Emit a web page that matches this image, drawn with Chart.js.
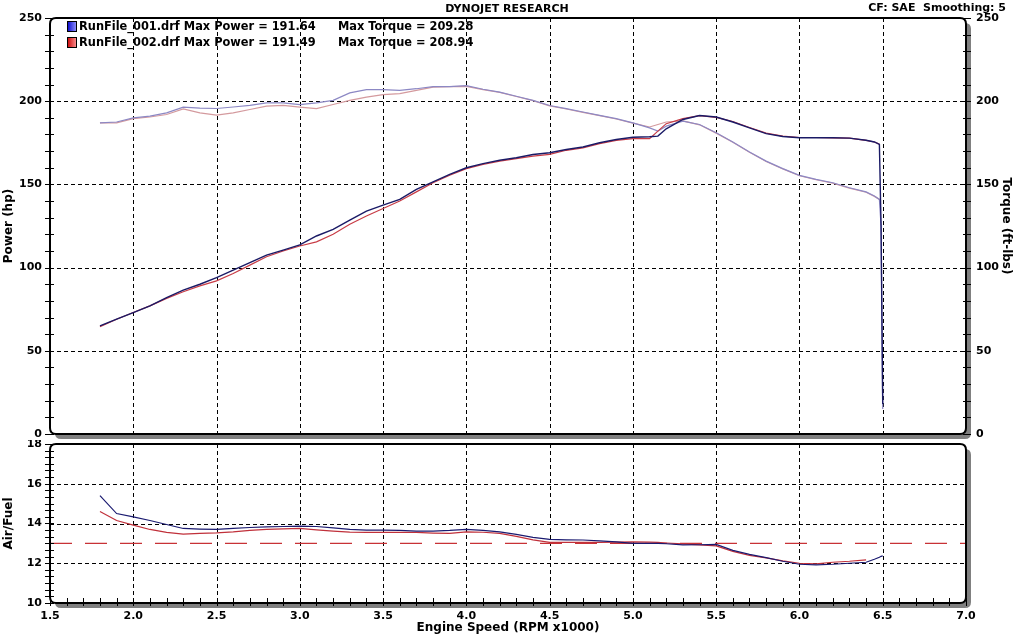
<!DOCTYPE html>
<html>
<head>
<meta charset="utf-8">
<script src="https://cdn.jsdelivr.net/npm/chart.js@4.4.1/dist/chart.umd.min.js"></script>
<style>
  body { margin: 0; background: #fff; overflow: hidden; }
  #top { position: absolute; left: 0; top: 0; }
  #afr { position: absolute; left: 0; top: 440px; }
</style>
</head>
<body>
<canvas id="top" width="1015" height="440"></canvas>
<canvas id="afr" width="1015" height="195"></canvas>
<script>
// engine speed (RPM x1000)
var rpm = [1.8, 1.9, 2.0, 2.1, 2.2, 2.3, 2.4, 2.5, 2.6, 2.7,
           2.8, 2.9, 3.0, 3.1, 3.2, 3.3, 3.4, 3.5, 3.6, 3.7,
           3.8, 3.9, 4.0, 4.1, 4.2, 4.3, 4.4, 4.5, 4.6, 4.7,
           4.8, 4.9, 5.0, 5.1, 5.15, 5.2, 5.3, 5.4, 5.5, 5.6,
           5.7, 5.8, 5.9, 6.0, 6.1, 6.2, 6.3, 6.4, 6.45, 6.48,
           6.49, 6.5];

var power1 = [65, 69, 73, 77, 82, 86.5, 90, 94, 98.5, 103,
              107.5, 110.5, 113.6, 119, 123, 128.5, 134, 137.5, 141, 147,
              151.5, 156, 160, 162.5, 164.5, 166, 168, 169, 171, 172.5,
              175, 177, 178.3, 178.6, 179, 183.4, 189, 191.4, 190.5, 187.5,
              184, 180.5, 178.8, 178, 178, 178, 177.8, 176.5, 175.5, 174,
              125, 18];
var power2 = [64.5, 69, 73, 77, 81.5, 85.5, 89, 92, 96.5, 101.5,
              106.5, 110, 113, 115.5, 120, 126, 131, 135.5, 140, 145.5,
              151, 155.5, 159.5, 162, 164, 165.5, 167, 168, 170.5, 172,
              174.5, 176.5, 177.5, 177.5, 182, 186.5, 189.5, 191.3, 190.3, 187.8,
              184.2, 180.8, 179, 178.2, 178.2, 178, 177.8, 176.5, 175.5, 174.2,
              null, null];
var torque1 = [187, 187.5, 190, 191, 193, 196.4, 195.8, 195.6, 196.5, 197.5,
               199, 199, 198, 199, 200.5, 205, 207, 207, 206.5, 207.5,
               208.8, 208.8, 209.3, 207.2, 205.5, 203, 200.5, 197.4, 195.5, 193.5,
               191.5, 189.5, 187, 184, 182, 185, 188, 186, 181, 175.5,
               169.5, 164, 159.5, 155.4, 153, 151, 148, 145.5, 143, 141,
               125, 15];
var torque2 = [187, 187, 189.5, 190.5, 192, 195.4, 193, 191.6, 193, 195,
               197, 197.5, 196.4, 195.5, 198, 200.5, 202.5, 204, 204.5, 206.5,
               208.5, 208.8, 208.9, 207, 205.3, 202.8, 200.3, 197.2, 195.3, 193.3,
               191.3, 189.3, 186.8, 184.5, 186, 187.5, 188.2, 185.8, 180.8, 175.3,
               169.3, 163.8, 159.3, 155.2, 152.8, 150.8, 147.8, 145.3, 142.8, 141,
               null, null];
var afr1 = [15.4, 14.5, 14.33, 14.15, 13.95, 13.75, 13.72, 13.7, 13.75, 13.8,
            13.83, 13.85, 13.87, 13.85, 13.78, 13.7, 13.67, 13.67, 13.65, 13.62,
            13.62, 13.65, 13.7, 13.65, 13.58, 13.45, 13.3, 13.2, 13.18, 13.17,
            13.13, 13.08, 13.0, 13.0, 13.0, 12.98, 12.92, 12.93, 12.95, 12.65,
            12.45, 12.28, 12.1, 11.95, 11.92, 11.95, 12.0, 12.05, 12.2, 12.3,
            12.35, 12.37];
var afr2 = [14.6, 14.15, 13.92, 13.7, 13.55, 13.47, 13.5, 13.53, 13.58, 13.65,
            13.7, 13.73, 13.75, 13.68, 13.62, 13.57, 13.55, 13.55, 13.55, 13.55,
            13.52, 13.5, 13.58, 13.56, 13.5, 13.35, 13.18, 13.05, 13.05, 13.05,
            13.05, 13.06, 13.08, 13.06, 13.05, 13.02, 12.97, 12.92, 12.87, 12.6,
            12.4, 12.27, 12.12, 12.0, 11.97, 12.05, 12.1, 12.17, null, null,
            null, null];
var afrTarget = 13.0;

var runs = ['RunFile_001.drf', 'RunFile_002.drf'];
var maxPower = ['191.64', '191.49'];
var maxTorque = ['209.28', '208.94'];

var FONT = 'DejaVu Sans';

function pts(ys) {
    return rpm.map(function (x, i) { return { x: x, y: ys[i] }; });
}

function rr(ctx, x, y, w, h, r) {
    ctx.beginPath();
    ctx.moveTo(x + r, y);
    ctx.lineTo(x + w - r, y);
    ctx.quadraticCurveTo(x + w, y, x + w, y + r);
    ctx.lineTo(x + w, y + h - r);
    ctx.quadraticCurveTo(x + w, y + h, x + w - r, y + h);
    ctx.lineTo(x + r, y + h);
    ctx.quadraticCurveTo(x, y + h, x, y + h - r);
    ctx.lineTo(x, y + r);
    ctx.quadraticCurveTo(x, y, x + r, y);
    ctx.closePath();
}

// rounded panel with grey drop shadow, dashed grid, small tick marks
var frame = {
    id: 'frame',
    beforeDraw: function (chart) {
        var ctx = chart.ctx, a = chart.chartArea;
        ctx.save();
        ctx.fillStyle = '#808080';
        rr(ctx, a.left + 5, a.top + 5, a.right - a.left, a.bottom - a.top, 6);
        ctx.fill();
        ctx.fillStyle = '#fff';
        rr(ctx, a.left, a.top, a.right - a.left, a.bottom - a.top, 6);
        ctx.fill();
        ctx.restore();
    },
    beforeDatasetsDraw: function (chart) {
        // dashed grid at the scales' own ticks
        var ctx = chart.ctx, a = chart.chartArea;
        ctx.save();
        ctx.beginPath();
        ctx.rect(a.left, a.top, a.right - a.left, a.bottom - a.top);
        ctx.clip();
        ctx.strokeStyle = '#000';
        ctx.lineWidth = 1;
        ctx.setLineDash([4, 3]);
        ctx.beginPath();
        chart.scales.x.ticks.forEach(function (t) {
            var p = Math.round(chart.scales.x.getPixelForValue(t.value)) + 0.5;
            if (p > a.left + 2 && p < a.right - 2) { ctx.moveTo(p, a.top); ctx.lineTo(p, a.bottom); }
        });
        chart.scales.y.ticks.forEach(function (t) {
            var p = Math.round(chart.scales.y.getPixelForValue(t.value)) + 0.5;
            if (p > a.top + 2 && p < a.bottom - 2) { ctx.moveTo(a.left, p); ctx.lineTo(a.right, p); }
        });
        ctx.stroke();
        ctx.restore();
    },
    afterDraw: function (chart, args, o) {
        var ctx = chart.ctx, a = chart.chartArea, v, p;
        ctx.save();
        ctx.setLineDash([]);
        ctx.strokeStyle = '#000';
        ctx.lineWidth = 1;
        ctx.beginPath();
        if (o.left) {
            var ys = chart.scales.y;
            for (v = ys.min; v <= ys.max + 1e-6; v += o.left) {
                p = Math.round(ys.getPixelForValue(v)) + 0.5;
                ctx.moveTo(a.left - 5, p); ctx.lineTo(a.left + 4, p);
            }
        }
        if (o.right) {
            var ys2 = chart.scales.y2;
            for (v = ys2.min; v <= ys2.max + 1e-6; v += o.right) {
                p = Math.round(ys2.getPixelForValue(v)) + 0.5;
                ctx.moveTo(a.right - 3, p); ctx.lineTo(a.right + 5, p);
            }
        }
        if (o.bottom) {
            var xs = chart.scales.x;
            for (v = xs.min; v <= xs.max + 1e-6; v += o.bottom) {
                p = Math.round(xs.getPixelForValue(v)) + 0.5;
                ctx.moveTo(p, a.bottom - 5); ctx.lineTo(p, a.bottom + 3);
            }
        }
        ctx.stroke();
        ctx.lineWidth = 2;
        rr(ctx, a.left, a.top, a.right - a.left, a.bottom - a.top, 6);
        ctx.stroke();
        ctx.restore();
    }
};

// header text and run legend
var header = {
    id: 'header',
    afterDraw: function (chart) {
        var ctx = chart.ctx;
        ctx.save();
        ctx.fillStyle = '#000';
        ctx.font = 'bold 11px "' + FONT + '"';
        ctx.textBaseline = 'middle';
        ctx.textAlign = 'center';
        ctx.fillText('DYNOJET RESEARCH', 507, 9);
        ctx.textAlign = 'right';
        ctx.fillText('CF: SAE  Smoothing: 5', 1006, 8);
        ctx.textAlign = 'left';
        var cols = [['#0000c8', '#9a9aff'], ['#c80000', '#ff9a9a']];
        ctx.font = 'bold 11.4px "' + FONT + '"';
        for (var i = 0; i < 2; i++) {
            var y = 27 + i * 16;
            var g = ctx.createLinearGradient(67, 0, 77, 0);
            g.addColorStop(0, cols[i][0]);
            g.addColorStop(1, cols[i][1]);
            ctx.fillStyle = g;
            ctx.fillRect(67, y - 6, 10, 11);
            ctx.strokeStyle = '#000';
            ctx.lineWidth = 1;
            ctx.strokeRect(67.5, y - 5.5, 9, 10);
            ctx.fillStyle = '#000';
            ctx.fillText(runs[i] + ' Max Power = ' + maxPower[i], 79, y);
            ctx.fillText('Max Torque = ' + maxTorque[i], 338, y);
        }
        ctx.restore();
    }
};

function fixY(w) {
    return function (s) { s.width = w; s.paddingTop = 0; s.paddingBottom = 0; };
}

var gridOpts = { display: false, drawTicks: false };
var tickFont = { family: FONT, weight: 'bold', size: 11 };
var titleFont = { family: FONT, weight: 'bold', size: 12 };

new Chart(document.getElementById('top'), {
    type: 'line',
    data: {
        datasets: [
            { label: 'Power 1', data: pts(power1), yAxisID: 'y', borderColor: '#1a1a66', borderWidth: 1.4 },
            { label: 'Power 2', data: pts(power2), yAxisID: 'y', borderColor: '#c83c46', borderWidth: 1.2 },
            { label: 'Torque 1', data: pts(torque1), yAxisID: 'y2', borderColor: '#8c88c4', borderWidth: 1.2 },
            { label: 'Torque 2', data: pts(torque2), yAxisID: 'y2', borderColor: '#d49a9e', borderWidth: 1.2 }
        ]
    },
    options: {
        responsive: false,
        animation: false,
        layout: { padding: { top: 18, left: 0, right: 0, bottom: 0 } },
        elements: { point: { radius: 0 }, line: { tension: 0 } },
        plugins: { legend: { display: false }, tooltip: { enabled: false }, frame: { left: 10, right: 10 } },
        scales: {
            x: {
                type: 'linear', min: 1.5, max: 7.0,
                ticks: { display: false, stepSize: 0.5 },
                grid: gridOpts, border: { display: false },
                afterFit: function (s) { s.height = 6; s.paddingLeft = 0; s.paddingRight = 0; }
            },
            y: {
                position: 'left', min: 0, max: 250,
                ticks: { stepSize: 50, color: '#000', font: tickFont, padding: 8 },
                grid: gridOpts, border: { display: false },
                title: { display: true, text: 'Power (hp)', color: '#000', font: titleFont, padding: { top: 2, bottom: 0 } },
                afterFit: fixY(50)
            },
            y2: {
                position: 'right', min: 0, max: 250,
                ticks: { stepSize: 50, color: '#000', font: tickFont, padding: 10 },
                grid: gridOpts, border: { display: false },
                title: { display: true, text: 'Torque (ft-lbs)', color: '#000', font: titleFont, padding: { top: 2, bottom: 0 } },
                afterFit: fixY(49)
            }
        }
    },
    plugins: [frame, header]
});

new Chart(document.getElementById('afr'), {
    type: 'line',
    data: {
        datasets: [
            { label: 'AFR 1', data: pts(afr1), borderColor: '#1a1a70', borderWidth: 1.2 },
            { label: 'AFR 2', data: pts(afr2), borderColor: '#c0303a', borderWidth: 1.2 },
            { label: 'Target', data: [{ x: 1.5, y: afrTarget }, { x: 7.0, y: afrTarget }],
              borderColor: '#c83236', borderWidth: 1.2, borderDash: [22, 13] }
        ]
    },
    options: {
        responsive: false,
        animation: false,
        layout: { padding: { top: 4, left: 0, right: 49, bottom: 0 } },
        elements: { point: { radius: 0 }, line: { tension: 0 } },
        plugins: { legend: { display: false }, tooltip: { enabled: false }, frame: { left: 2 / 6, bottom: 0.1 } },
        scales: {
            x: {
                type: 'linear', min: 1.5, max: 7.0,
                ticks: { stepSize: 0.5, color: '#000', font: tickFont, padding: 7,
                         callback: function (v) { return v.toFixed(1); } },
                grid: gridOpts, border: { display: false },
                title: { display: true, text: 'Engine Speed (RPM x1000)', color: '#000', font: titleFont, padding: { top: 0, bottom: 0 } },
                afterFit: function (s) { s.height = 32; s.paddingLeft = 0; s.paddingRight = 0; }
            },
            y: {
                position: 'left', min: 10, max: 18,
                ticks: { stepSize: 2, color: '#000', font: tickFont, padding: 8 },
                grid: gridOpts, border: { display: false },
                title: { display: true, text: 'Air/Fuel', color: '#000', font: titleFont, padding: { top: 2, bottom: 0 } },
                afterFit: fixY(50)
            }
        }
    },
    plugins: [frame]
});
</script>
</body>
</html>
